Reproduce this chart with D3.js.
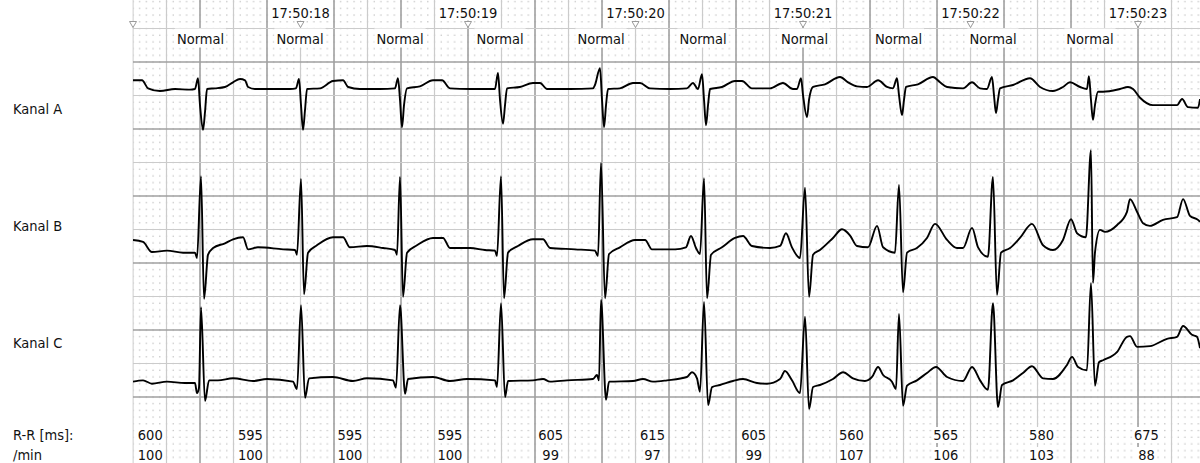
<!DOCTYPE html>
<html><head><meta charset="utf-8">
<script src="https://cdn.jsdelivr.net/npm/d3@7"></script>
<style>
html,body{margin:0;padding:0;background:#fff;}
svg text{font-family:"DejaVu Sans Condensed","DejaVu Sans",sans-serif;font-stretch:condensed;font-size:14.5px;fill:#111;}
</style></head><body>
<svg id="chart" width="1200" height="463"></svg>
<script>
// ---------- data ----------
const channelNames = ["Kanal A", "Kanal B", "Kanal C"];
const secondMarks = [0, 1, 2, 3, 4, 5, 6];            // seconds after 17:50:17
const timeLabels = ["", "17:50:18", "17:50:19", "17:50:20", "17:50:21", "17:50:22", "17:50:23"];
const beatTimes = [0.403, 0.997, 1.594, 2.191, 2.794, 3.403, 4.009, 4.570, 5.134, 5.713];
const beatLabels = ["Normal","Normal","Normal","Normal","Normal","Normal","Normal","Normal","Normal","Normal"];
const rrMs = [600, 595, 595, 595, 605, 615, 605, 560, 565, 580, 675];
const ratePerMin = [100, 100, 100, 100, 99, 97, 99, 107, 106, 103, 88];

// [time s, amplitude mV]
const kanalA = [
[0.000,0.13],[0.054,0.13],[0.090,0.01],[0.161,-0.03],[0.251,0],[0.340,-0.01],[0.370,0],[0.388,0.16],[0.400,-0.24],[0.418,-0.61],[0.430,-0.34],[0.442,0],[0.490,0.01],[0.549,0.03],[0.597,0.10],[0.639,0.15],[0.669,0.13],[0.687,0.03],[0.728,0],[0.818,0],[0.937,0],[0.973,0.01],
[0.991,0.15],[1.003,-0.24],[1.015,-0.61],[1.027,-0.31],[1.039,0],[1.116,0.01],[1.194,0.12],[1.254,0.13],[1.284,0.03],[1.355,0],[1.475,0],[1.564,0.01],
[1.582,0.16],[1.594,-0.16],[1.606,-0.57],[1.618,-0.24],[1.636,0.01],[1.713,0.04],[1.791,0.13],[1.845,0.13],[1.892,0.01],[2.012,0],[2.161,0],
[2.179,0.24],[2.191,-0.16],[2.209,-0.52],[2.221,-0.24],[2.233,0.01],[2.310,0.03],[2.388,0.09],[2.430,0.09],[2.472,0],[2.609,0],[2.746,0.01],[2.758,0.06],
[2.788,0.31],[2.800,-0.16],[2.812,-0.57],[2.824,-0.24],[2.836,0],[2.907,0.01],[2.985,0.09],[3.027,0.09],[3.086,0.01],[3.206,0],[3.307,0.01],[3.343,0.09],[3.373,0],
[3.397,0.22],[3.409,-0.16],[3.421,-0.54],[3.433,-0.24],[3.445,0],[3.516,0.03],[3.594,0.12],[3.636,0.12],[3.695,0.01],[3.803,0.01],[3.880,0.09],[3.940,0],[3.964,0],
[3.988,0.16],[4.000,-0.09],[4.024,-0.42],[4.036,-0.16],[4.060,0.03],[4.131,0.07],[4.221,0.18],[4.269,0.10],[4.322,0.04],[4.382,0.03],[4.448,0.13],[4.501,0.03],[4.537,0.01],
[4.561,0.16],[4.573,-0.09],[4.591,-0.39],[4.603,-0.16],[4.615,0.03],[4.686,0.07],[4.776,0.18],[4.818,0.10],[4.860,0.03],[4.955,0.01],[5.009,0.10],[5.057,0.01],[5.098,0],
[5.128,0.18],[5.140,-0.09],[5.152,-0.36],[5.164,-0.16],[5.176,0.01],[5.254,0.06],[5.355,0.16],[5.415,0.03],[5.492,-0.03],[5.552,0.03],[5.594,0.10],[5.654,0.03],[5.695,0],
[5.707,0.19],[5.719,-0.16],[5.731,-0.46],[5.743,-0.24],[5.761,-0.04],[5.791,-0.04],[5.892,0],[5.940,0.03],[5.970,0],[6.012,-0.13],[6.089,-0.24],[6.233,-0.24],[6.263,-0.15],[6.298,-0.27],[6.358,-0.28],[6.370,-0.15]
];
const kanalB = [
[0.000,0.15],[0.060,0.12],[0.113,-0.03],[0.203,-0.01],[0.299,-0.04],[0.370,-0.04],[0.382,-0.12],[0.406,1.10],[0.424,-0.73],[0.448,-0.07],[0.478,0.03],[0.549,0.10],[0.597,0.16],[0.657,0.19],[0.687,0.01],[0.746,0.04],[0.896,0.01],[0.967,0],[0.979,-0.07],
[1.003,1.06],[1.021,-0.66],[1.045,-0.04],[1.098,0.07],[1.194,0.19],[1.254,0.19],[1.295,0.04],[1.397,0.06],[1.493,0.03],[1.564,0],[1.576,-0.07],
[1.594,1.09],[1.612,-0.70],[1.636,-0.04],[1.695,0.07],[1.791,0.18],[1.851,0.18],[1.892,0.03],[2.012,0.03],[2.101,0],[2.161,-0.01],[2.173,-0.09],
[2.197,1.10],[2.215,-0.72],[2.239,-0.04],[2.298,0.06],[2.388,0.16],[2.448,0.16],[2.490,0.03],[2.639,0.01],[2.758,-0.01],[2.776,-0.09],
[2.794,1.30],[2.818,-0.72],[2.842,-0.06],[2.907,0.04],[2.997,0.15],[3.057,0.15],[3.098,0.01],[3.236,0.01],[3.301,0.04],[3.331,0.21],[3.361,0.03],[3.385,-0.06],
[3.409,1.07],[3.427,-0.72],[3.451,-0.07],[3.516,0.04],[3.594,0.18],[3.642,0.21],[3.695,0.06],[3.803,0.03],[3.863,0.06],[3.898,0.25],[3.934,0.04],[3.982,-0.12],
[4.012,0.93],[4.036,-0.70],[4.060,-0.07],[4.101,0],[4.179,0.18],[4.233,0.31],[4.280,0.22],[4.322,0.06],[4.388,0.04],[4.442,0.36],[4.478,0.04],[4.549,-0.04],
[4.573,0.97],[4.597,-0.63],[4.621,-0.04],[4.680,0.03],[4.740,0.18],[4.788,0.39],[4.860,0.15],[4.919,0.03],[4.955,0.03],[5.009,0.33],[5.045,0.04],[5.104,-0.10],
[5.134,1.09],[5.158,-0.67],[5.182,-0.04],[5.236,0.03],[5.295,0.18],[5.367,0.39],[5.433,0.07],[5.492,0],[5.552,0.15],[5.600,0.46],[5.636,0.25],[5.689,0.19],
[5.719,1.49],[5.731,-0.49],[5.743,-0.04],[5.773,0.30],[5.803,0.27],[5.874,0.37],[5.934,0.57],[5.952,0.76],[5.994,0.57],[6.030,0.40],[6.071,0.36],[6.149,0.45],[6.233,0.49],[6.269,0.76],[6.310,0.51],[6.358,0.45],[6.370,0.42]
];
const kanalC = [
[0.000,-0.01],[0.060,0.01],[0.113,-0.04],[0.203,-0.01],[0.310,-0.03],[0.370,-0.03],[0.382,-0.18],[0.394,-0.10],[0.406,1.10],[0.430,-0.30],[0.454,0.01],[0.507,0.01],[0.597,0.04],[0.716,0],[0.800,0.03],[0.955,-0.01],[0.979,-0.12],
[1.003,1.13],[1.027,-0.25],[1.051,0.04],[1.194,0.06],[1.313,0],[1.397,0.04],[1.552,0.01],[1.570,-0.10],
[1.594,1.13],[1.624,-0.19],[1.642,0.03],[1.791,0.06],[1.892,0],[1.994,0.03],[2.161,0.01],[2.173,-0.09],
[2.197,1.16],[2.221,-0.24],[2.239,0],[2.388,0.01],[2.448,0.03],[2.490,-0.01],[2.591,0.01],[2.746,0.03],[2.770,0.09],[2.782,0.01],
[2.794,1.21],[2.824,-0.28],[2.842,-0.01],[2.985,0],[3.045,0.03],[3.104,-0.01],[3.188,0.01],[3.307,0.06],[3.337,0.13],[3.367,0.04],[3.385,-0.16],
[3.409,1.18],[3.433,-0.36],[3.457,-0.09],[3.504,-0.06],[3.582,0],[3.642,0.03],[3.725,-0.03],[3.785,-0.04],[3.863,0.03],[3.892,0.15],[3.934,0.01],[3.982,-0.18],
[4.012,0.96],[4.036,-0.42],[4.060,-0.09],[4.101,-0.06],[4.179,0.03],[4.239,0.13],[4.298,0.04],[4.370,0],[4.412,0.06],[4.448,0.21],[4.478,0.09],[4.531,-0.01],[4.555,-0.12],
[4.573,1.00],[4.597,-0.37],[4.621,-0.07],[4.680,0.01],[4.740,0.12],[4.794,0.21],[4.860,0.06],[4.955,0],[5.009,0.21],[5.057,0.01],[5.104,-0.13],
[5.134,1.16],[5.164,-0.39],[5.188,-0.06],[5.254,0.01],[5.313,0.12],[5.367,0.22],[5.433,0.04],[5.492,0.03],[5.576,0.24],[5.606,0.36],[5.642,0.21],[5.695,0.16],
[5.719,1.46],[5.743,-0.07],[5.767,0.28],[5.791,0.31],[5.874,0.43],[5.934,0.66],[5.952,0.67],[5.994,0.51],[6.071,0.52],[6.173,0.63],[6.233,0.66],[6.269,0.82],[6.322,0.69],[6.352,0.66],[6.370,0.49]
];
const traces = [kanalA, kanalB, kanalC];

// ---------- layout ----------
const W = 1200, H = 463, plotLeft = 133;
const svg = d3.select("#chart");
const x = d3.scaleLinear().domain([0, 6.37]).range([plotLeft, W]);
const cell = x(0.2) - x(0);           // 0.2 s per big square
const gridY0 = 28.5;
const channelZero = [89, 250, 381];
const ys = channelZero.map(z => d3.scaleLinear().domain([-1, 1]).range([z + 2 * cell, z - 2 * cell]));

svg.append("rect").attr("width", W).attr("height", H).attr("fill", "#fff");

// dot pattern (1 mm)
const defs = svg.append("defs");
const pat = defs.append("pattern").attr("id", "dots").attr("patternUnits", "userSpaceOnUse")
  .attr("x", plotLeft - 0.6).attr("y", gridY0 - 0.6).attr("width", cell).attr("height", cell);
for (let i = 0; i < 5; i++) for (let j = 0; j < 5; j++) {
  pat.append("rect").attr("x", i * cell / 5).attr("y", j * cell / 5).attr("width", 1.2).attr("height", 1.2).attr("fill", "#b8b8b8");
}
defs.append("clipPath").attr("id", "plotclip").append("rect").attr("x", plotLeft).attr("y", 0).attr("width", W - plotLeft).attr("height", H);
svg.append("rect").attr("x", plotLeft).attr("y", 0).attr("width", W - plotLeft).attr("height", H).attr("fill", "url(#dots)");

const vTicks = d3.range(0, 32).map(k => k * 0.2);
const hLines = d3.range(0, 12).map(j => gridY0 + j * cell);
const grid = svg.append("g");
grid.selectAll("line.v").data(vTicks).join("line")
  .attr("x1", d => x(d)).attr("x2", d => x(d)).attr("y1", 0).attr("y2", H)
  .attr("stroke", (d, i) => (i % 2 === 0 && i > 0) ? "#a0a0a0" : "#cbcbcb")
  .attr("stroke-width", (d, i) => (i % 2 === 0 && i > 0) ? 1.6 : 1.2);
grid.selectAll("line.h").data(hLines).join("line")
  .attr("x1", plotLeft).attr("x2", W).attr("y1", d => d).attr("y2", d => d)
  .attr("stroke", (d, i) => (i % 2 === 1) ? "#a0a0a0" : "#cbcbcb")
  .attr("stroke-width", (d, i) => (i % 2 === 1) ? 1.6 : 1.2);

// helper: label with white background
function bgText(g, tx, ty, str, anchor, pad) {
  const t = g.append("text").attr("x", tx).attr("y", ty).attr("text-anchor", anchor || "middle").text(str);
  if (pad !== undefined) {
    const b = t.node().getBBox();
    g.insert("rect", () => t.node()).attr("x", b.x - pad[0]).attr("y", pad[1] !== null ? pad[1] : b.y)
      .attr("width", b.width + 2 * pad[0]).attr("height", pad[2] !== null ? pad[2] - (pad[1] !== null ? pad[1] : b.y) : b.height)
      .attr("fill", "#fff");
  }
  return t;
}

// left labels (white margin first, so markers on the edge stay visible)
const lab = svg.append("g");
lab.append("rect").attr("x", 0).attr("y", 0).attr("width", plotLeft - 0.6).attr("height", H).attr("fill", "#fff");
const labelY = [114, 231, 348];
channelNames.forEach((n, i) => lab.append("text").attr("x", 13).attr("y", labelY[i]).text(n));
lab.append("text").attr("x", 13).attr("y", 440).text("R-R [ms]:");
lab.append("text").attr("x", 13).attr("y", 460).text("/min");

// time markers
const hdr = svg.append("g");
secondMarks.forEach((s, i) => {
  const cx = x(s);
  hdr.append("path").attr("d", `M${cx - 3.5},21.5L${cx + 3.5},21.5L${cx},27.5Z`)
    .attr("fill", "#fff").attr("stroke", "#9a9a9a").attr("stroke-width", 1);
  if (timeLabels[i]) bgText(hdr, cx, 18, timeLabels[i], "middle", [2, 0, 20.5]);
});
// beat annotations
beatTimes.forEach((t, i) => bgText(hdr, x(t), 44, beatLabels[i], "middle", [2, 28.5, 47.5]));

// R-R intervals
const rrG = svg.append("g");
rrMs.forEach((rr, i) => {
  const prev = i === 0 ? beatTimes[0] - rr / 1000 : beatTimes[i - 1];
  const cx = x(prev + rr / 2000);
  bgText(rrG, cx, 440, String(rr), "middle", [1.5, null, null]);
  bgText(rrG, cx, 460, String(ratePerMin[i]), "middle", [1.5, null, null]);
});

// traces
const tg = svg.append("g").attr("clip-path", "url(#plotclip)");
traces.forEach((data, i) => {
  const line = d3.line().curve(d3.curveMonotoneX).x(d => x(d[0])).y(d => ys[i](d[1]));
  tg.append("path").datum(data).attr("d", line).attr("fill", "none")
    .attr("stroke", "#000").attr("stroke-width", 1.9).attr("stroke-linejoin", "round");
});
</script>
</body></html>
